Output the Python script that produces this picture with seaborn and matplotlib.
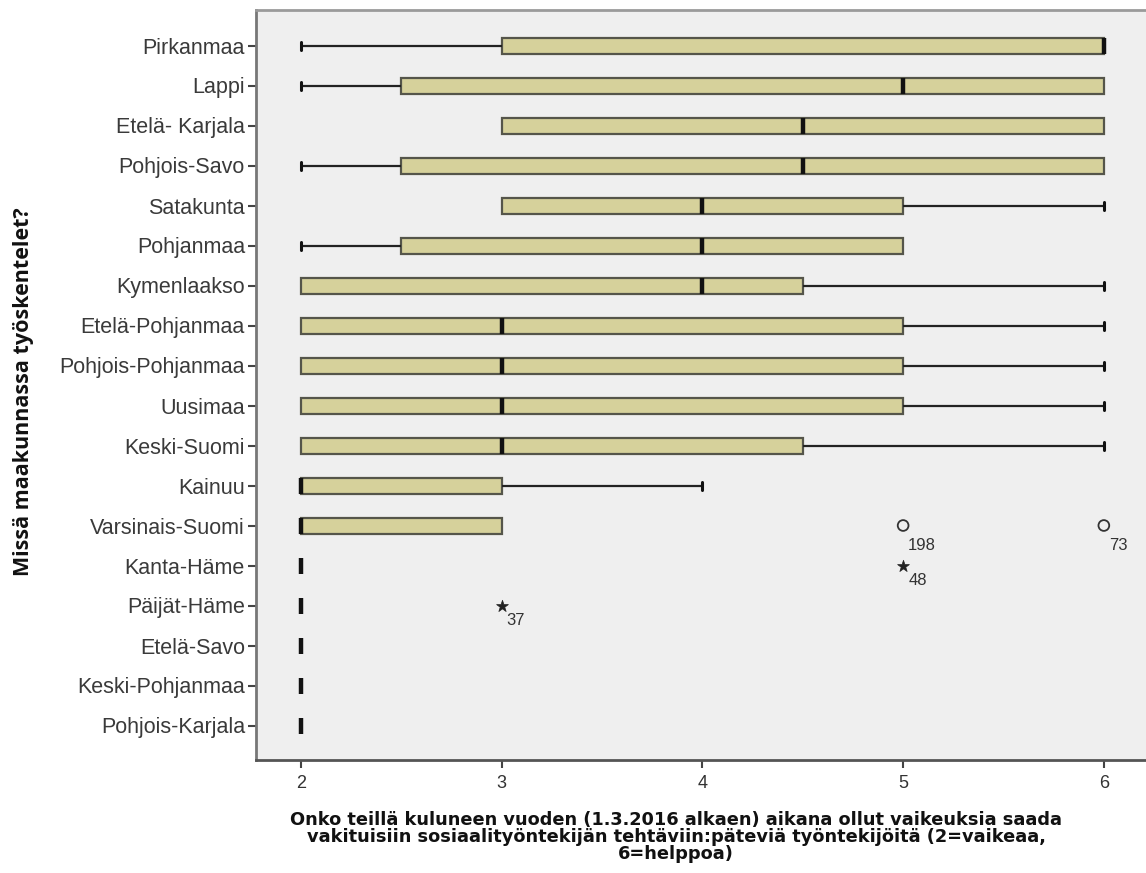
import numpy as np
import pandas as pd
import matplotlib
matplotlib.use("Agg")
import matplotlib.pyplot as plt
import seaborn as sns

regions = ["Pirkanmaa", "Lappi", "Etelä- Karjala", "Pohjois-Savo", "Satakunta",
           "Pohjanmaa", "Kymenlaakso", "Etelä-Pohjanmaa", "Pohjois-Pohjanmaa",
           "Uusimaa", "Keski-Suomi", "Kainuu", "Varsinais-Suomi", "Kanta-Häme",
           "Päijät-Häme", "Etelä-Savo", "Keski-Pohjanmaa", "Pohjois-Karjala"]
whisker_lo = [2, 2, 3, 2, 3, 2, 2, 2, 2, 2, 2, 2, 2, 2, 2, 2, 2, 2]
q1         = [3, 2.5, 3, 2.5, 3, 2.5, 2, 2, 2, 2, 2, 2, 2, 2, 2, 2, 2, 2]
median     = [6, 5, 4.5, 4.5, 4, 4, 4, 3, 3, 3, 3, 2, 2, 2, 2, 2, 2, 2]
q3         = [6, 6, 6, 6, 5, 5, 4.5, 5, 5, 5, 4.5, 3, 3, 2, 2, 2, 2, 2]
whisker_hi = [6, 6, 6, 6, 6, 5, 6, 6, 6, 6, 6, 4, 3, 2, 2, 2, 2, 2]

outlier_region = ["Varsinais-Suomi", "Varsinais-Suomi", "Kanta-Häme", "Päijät-Häme"]
outlier_value = [5, 6, 5, 3]
outlier_case = ["198", "73", "48", "37"]
outlier_kind = ["o", "o", "*", "*"]

xlabel = ("Onko teillä kuluneen vuoden (1.3.2016 alkaen) aikana ollut vaikeuksia saada\n"
          "vakituisiin sosiaalityöntekijän tehtäviin:päteviä työntekijöitä (2=vaikeaa,\n"
          "6=helppoa)")
ylabel = "Missä maakunnassa työskentelet?"
xticks = [2, 3, 4, 5, 6]

rows = []
for i, r in enumerate(regions):
    for v in (whisker_lo[i], q1[i], median[i], q3[i], whisker_hi[i]):
        rows.append({"region": r, "value": v})
df = pd.DataFrame(rows)

sns.set_theme(style="ticks")
plt.rcParams["font.family"] = ["Liberation Sans", "DejaVu Sans"]

W, H = 1146, 873
fig = plt.figure(figsize=(W / 100, H / 100), dpi=100)
ax = fig.add_axes([256 / W, 1 - 760 / H, (W - 256) / W, (760 - 10) / H])
ax.set_facecolor("#efefef")

sns.boxplot(data=df, x="value", y="region", order=regions, orient="h",
            whis=np.inf, width=0.4, color="#d6d19b", saturation=1,
            linecolor="#55554a", linewidth=1.6, ax=ax,
            boxprops=dict(edgecolor="#55554a", linewidth=1.6),
            whiskerprops=dict(color="#222222", linewidth=1.6),
            capprops=dict(color="#111111", linewidth=2.2),
            medianprops=dict(color="#111111", linewidth=3.2))

# SPSS draws no cap where the whisker has zero length
for ln in ax.lines:
    xd = np.asarray(ln.get_xdata(), dtype=float)
    yd = np.asarray(ln.get_ydata(), dtype=float)
    if len(xd) != 2 or xd[0] != xd[1]:
        continue
    span = abs(yd[1] - yd[0])
    if span > 0.3 or span == 0:
        continue
    i = int(round(yd.mean()))
    x = xd[0]
    if (x == whisker_lo[i] and whisker_lo[i] == q1[i]) or \
       (x == whisker_hi[i] and whisker_hi[i] == q3[i]):
        ln.set_visible(False)

ypos = [regions.index(r) for r in outlier_region]
for kind in ("o", "*"):
    xs = [v for v, k in zip(outlier_value, outlier_kind) if k == kind]
    ys = [p for p, k in zip(ypos, outlier_kind) if k == kind]
    if kind == "o":
        sns.scatterplot(x=xs, y=ys, marker="o", s=60, facecolors="none",
                        edgecolor="#333333", linewidth=1.3, ax=ax, zorder=5)
    else:
        sns.scatterplot(x=xs, y=ys, marker="*", s=80, color="#222222",
                        edgecolor="#222222", linewidth=0.5, ax=ax, zorder=5)

for v, p, c, k in zip(outlier_value, ypos, outlier_case, outlier_kind):
    dy = -20 if k == "o" else -15
    ax.annotate(c, (v, p), xytext=(5, dy), textcoords="offset pixels",
                fontsize=12, color="#333333", ha="left", va="center")

ax.set_xlim(1.776, 6.21)
ax.set_ylim(17.8625, -0.8875)
ax.set_xticks(xticks)
ax.set_xticklabels([str(t) for t in xticks], fontsize=13, color="#333333")
ax.set_yticks(range(len(regions)))
ax.set_yticklabels(regions, fontsize=15.5, color="#3a3a3a")
ax.tick_params(axis="x", length=6, width=1.5, color="#444444", pad=5)
ax.tick_params(axis="y", length=6, width=1.5, color="#444444", pad=2)
ax.set_xlabel("")
ax.set_ylabel("")

ax.spines["right"].set_visible(False)
ax.spines["top"].set_color("#9a9a9a")
ax.spines["top"].set_linewidth(2)
ax.spines["left"].set_color("#777777")
ax.spines["left"].set_linewidth(2)
ax.spines["bottom"].set_color("#555555")
ax.spines["bottom"].set_linewidth(2)

fig.text(676 / W, 1 - 837 / H, xlabel, ha="center", va="center",
         fontsize=12.8, fontweight="bold", color="#111111", linespacing=0.95,
         family=["DejaVu Sans"])
fig.text(24 / W, 1 - 392 / H, ylabel, ha="center", va="center", rotation=90,
         fontsize=15.5, fontweight="bold", color="#111111",
         family=["Open Sans", "DejaVu Sans"])

fig.savefig("out.png", dpi=100, facecolor="white")
